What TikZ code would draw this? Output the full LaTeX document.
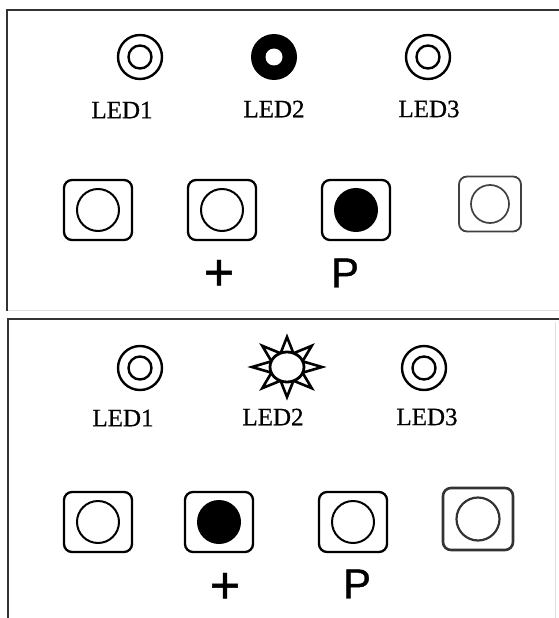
\documentclass[tikz,border=0pt]{standalone}
\usepackage{fontspec}
\setmainfont{Liberation Serif}
\newfontfamily\labelfont[FakeBold=0.7]{Liberation Serif}
\newfontfamily\keyfont[FakeBold=0.9]{Liberation Sans}
\usetikzlibrary{shapes.geometric}

\begin{document}
\begin{tikzpicture}[x=1pt, y=-1pt, thick,
    frame/.style={draw=black!80, line width=2.4pt},
    faint/.style={draw=black!12, line width=0.8pt},
    ledoff/.style={draw, circle, line width=2.4pt, minimum size=44pt, inner sep=0pt},
    ledcore/.style={draw, circle, line width=2.4pt, minimum size=23pt, inner sep=0pt},
    ledon/.style={circle, fill=black, minimum size=46pt, inner sep=0pt},
    ledhole/.style={circle, fill=white, minimum size=17pt, inner sep=0pt},
    ledlabel/.style={font=\labelfont\fontsize{25}{25}\selectfont, inner sep=0pt},
    keybox/.style={draw, rectangle, rounded corners=8pt, line width=2.3pt, minimum width=68pt, minimum height=60pt, inner sep=0pt},
    keyhole/.style={draw, circle, line width=2pt, minimum size=42pt, inner sep=0pt},
    keydown/.style={keyhole, fill=black},
    keymark/.style={font=\keyfont\fontsize{42}{42}\selectfont, inner sep=0pt},
    plusmark/.style={font=\keyfont\fontsize{52}{52}\selectfont, inner sep=0pt},
    ray/.style={draw, fill=white, line width=2.6pt, line join=miter}]

    % Page size
    \useasboundingbox (0,0) rectangle (559,618);

    % Panel frames
    \draw[frame] (7,311) -- (7,10) -- (559,10);
    \draw[faint] (8,310) -- (559,310);
    \draw[frame] (8,618) -- (8,319) -- (559,319);
    \draw[faint] (555,322) -- (555,618);

    % Upper panel: LEDs
    \node[ledoff] (ledA1) at (140,57) {};
    \node[ledcore] (ledA1c) at (ledA1) {};
    \node[ledon] (ledA2) at (274,57) {};
    \node[ledhole] (ledA2c) at (ledA2) {};
    \node[ledoff] (ledA3) at (428,57) {};
    \node[ledcore] (ledA3c) at (ledA3) {};

    \node[ledlabel] (lblA1) at (122,110) {LED1};
    \node[ledlabel] (lblA2) at (274,109) {LED2};
    \node[ledlabel] (lblA3) at (429,109) {LED3};

    % Upper panel: keys
    \node[keybox] (keyA1) at (98,210) {};
    \node[keyhole] (holeA1) at (keyA1) {};
    \node[keybox] (keyA2) at (222,210) {};
    \node[keyhole] (holeA2) at (keyA2) {};
    \node[keybox] (keyA3) at (356,210) {};
    \node[keydown] (holeA3) at (keyA3) {};
    \node[keybox, draw=black!75, line width=1.8pt, minimum width=62pt, minimum height=55pt] (keyA4) at (490,204) {};
    \node[keyhole, draw=black!75, line width=1.7pt, minimum size=38pt] (holeA4) at (keyA4) {};

    \node[plusmark] (plusA) at (219,275) {+};
    \node[keymark] (progA) at (345,273) {P};

    % Lower panel: LEDs
    \node[ledoff] (ledB1) at (140,368) {};
    \node[ledcore] (ledB1c) at (ledB1) {};
    \coordinate (sun) at (287,367);
    \begin{scope}[shift={(sun)}]
      \foreach \a in {0,45,...,315}
        \draw[ray] ({17*cos(\a-22)},{15*sin(\a-22)}) -- ({35*cos(\a)},{30*sin(\a)}) -- ({17*cos(\a+22)},{15*sin(\a+22)}) -- cycle;
      \draw[line width=2.8pt, fill=white] (0,0) ellipse (17 and 15);
    \end{scope}
    \node[ledoff] (ledB3) at (424,368) {};
    \node[ledcore] (ledB3c) at (ledB3) {};

    \node[ledlabel] (lblB1) at (123,418) {LED1};
    \node[ledlabel] (lblB2) at (273,417) {LED2};
    \node[ledlabel] (lblB3) at (427,417) {LED3};

    % Lower panel: keys
    \node[keybox] (keyB1) at (98,522) {};
    \node[keyhole] (holeB1) at (keyB1) {};
    \node[keybox] (keyB2) at (219,522) {};
    \node[keydown] (holeB2) at (keyB2) {};
    \node[keybox] (keyB3) at (353,522) {};
    \node[keyhole] (holeB3) at (keyB3) {};
    \node[keybox, draw=black!80, line width=2.6pt, minimum width=70pt, minimum height=62pt] (keyB4) at (478,519) {};
    \node[keyhole, draw=black!80, line width=2.2pt, minimum size=43pt] (holeB4) at (keyB4) {};

    \node[plusmark] (plusB) at (225,588) {+};
    \node[keymark] (progB) at (357,584) {P};
\end{tikzpicture}
\end{document}
